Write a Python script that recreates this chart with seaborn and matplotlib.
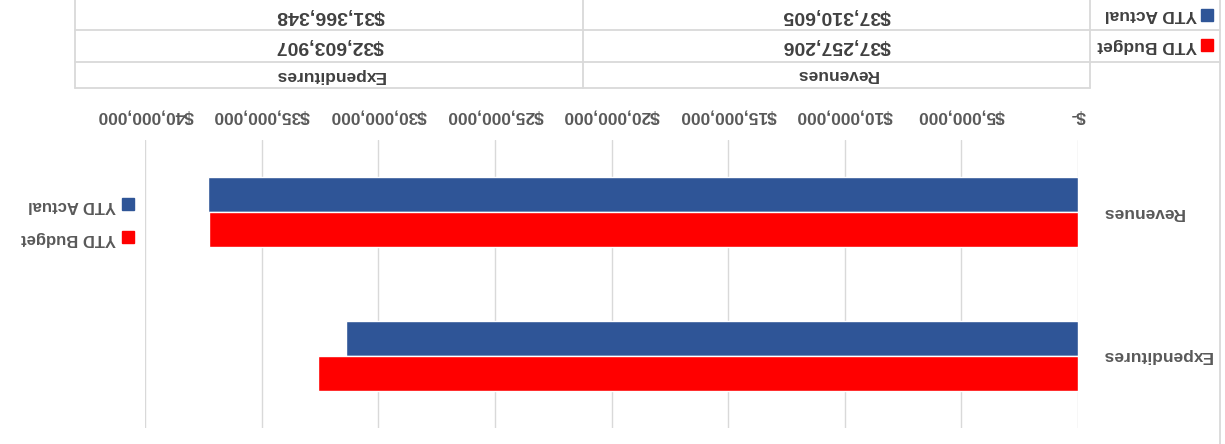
import matplotlib
matplotlib.use("Agg")
import matplotlib.pyplot as plt
from matplotlib.patches import Patch
import seaborn as sns
import pandas as pd

categories = ["Revenues", "Expenditures"]
series = ["YTD Actual", "YTD Budget"]
ytd_actual = [37310605, 31366348]
ytd_budget = [37257206, 32603907]
x_ticks = [0, 5000000, 10000000, 15000000, 20000000, 25000000, 30000000, 35000000, 40000000]
x_tick_labels = ["$-", "$5,000,000", "$10,000,000", "$15,000,000", "$20,000,000",
                 "$25,000,000", "$30,000,000", "$35,000,000", "$40,000,000"]
colors = {"YTD Actual": "#2F5597", "YTD Budget": "#FF0000"}

df = pd.DataFrame({
    "Category": categories * 2,
    "Series": [series[0]] * 2 + [series[1]] * 2,
    "Value": ytd_actual + ytd_budget,
})

sns.set_theme(style="white")
plt.rcParams["font.family"] = ["Liberation Sans", "DejaVu Sans"]
plt.rcParams["font.weight"] = "bold"

W, H = 1225, 444
fig = plt.figure(figsize=(W / 100, H / 100), dpi=100)

# plot area (whole chart is shown rotated by 180 degrees)
L, R, T, B = 145, 1078, 140, 428
ax = fig.add_axes([L / W, 1 - B / H, (R - L) / W, (B - T) / H])
sns.barplot(data=df, y="Category", x="Value", hue="Series", hue_order=series,
            order=categories, palette=colors, orient="h", width=0.48, gap=0,
            legend=False, ax=ax, saturation=1)
ax.set_xlim(40000000, 0)
ax.set_ylim(-0.5, 1.5)
ax.invert_yaxis()
ax.set_xlabel("")
ax.set_ylabel("")
for s in ax.spines.values():
    s.set_visible(False)
ax.grid(axis="x", color="#d9d9d9", lw=1)
ax.set_axisbelow(True)

ax.xaxis.tick_top()
ax.set_xticks(x_ticks)
ax.set_xticklabels(x_tick_labels, rotation=180, fontsize=12.5, fontweight="bold", color="#595959")
ax.tick_params(axis="x", length=0, pad=12)

ax.yaxis.tick_right()
ax.set_yticks(range(len(categories)))
ax.set_yticklabels(categories, rotation=180, fontsize=12.5, fontweight="bold", color="#595959")
for t in ax.get_yticklabels():
    t.set_ha("left")
    t.set_va("center")
ax.tick_params(axis="y", length=0, pad=17)

# overlay in pixel coordinates for data table and frame
ov = fig.add_axes([0, 0, 1, 1])
ov.set_xlim(0, W)
ov.set_ylim(H, 0)
ov.axis("off")
ov.patch.set_visible(False)

grid_c = "#d9d9d9"
lw = 1.3
ov.plot([1220, 1220], [0, H], color=grid_c, lw=lw)
for y in [30, 62]:
    ov.plot([75, 1220], [y, y], color=grid_c, lw=lw)
ov.plot([75, 1090], [88, 88], color=grid_c, lw=lw)
for x in [75, 583, 1090]:
    ov.plot([x, x], [0, 88], color=grid_c, lw=lw)

col_x = {"Expenditures": 330, "Revenues": 837}
row_y = {"YTD Actual": 15, "YTD Budget": 45}
vals = {"YTD Actual": ytd_actual, "YTD Budget": ytd_budget}
for s in series:
    for c, v in zip(categories, vals[s]):
        ov.text(col_x[c], row_y[s], f"${v:,.0f}", rotation=180, ha="center", va="center",
                fontsize=14, fontweight="bold", color="#404040")
    ov.add_patch(plt.Rectangle((1201, row_y[s] - 6), 12, 12, color=colors[s]))
    ov.text(1197, row_y[s], s, rotation=180, ha="right", va="center", fontsize=12.5,
            fontweight="bold", color="#404040")
for c in categories:
    ov.text(col_x[c], 75, c, rotation=180, ha="center", va="center", fontsize=12.5,
            fontweight="bold", color="#404040")

# legend
handles = [Patch(color=colors[s], label=s) for s in series]
leg = ax.legend(handles=handles, loc="center right", bbox_to_anchor=(142, 222),
                bbox_transform=ov.transData, markerfirst=False, frameon=False,
                handlelength=0.72, handleheight=0.72, handletextpad=0.35,
                labelspacing=1.05, borderpad=0, prop={"size": 12, "weight": "bold"})
for t in leg.get_texts():
    t.set_rotation(180)
    t.set_color("#595959")

fig.savefig("out.png", dpi=100)
